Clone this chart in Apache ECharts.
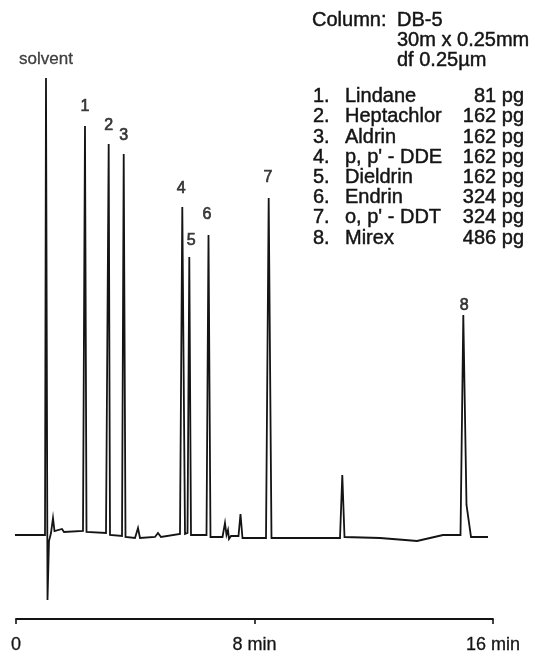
<!DOCTYPE html>
<html><head><meta charset="utf-8">
<script src="https://cdn.jsdelivr.net/npm/echarts@6/dist/echarts.min.js"></script>
<style>html,body{margin:0;padding:0;background:#fff}#c{width:534px;height:656px}</style>
</head><body><div id="c"></div>
<script>
// Chromatogram trace: retention time (min) and detector signal (arbitrary units)
const traceTime = [-0.235, 0.973, 1.006, 1.057, 1.107, 1.174, 1.241, 1.291, 1.543, 1.610,
  2.247, 2.314, 2.365, 3.019, 3.069, 3.109, 3.153, 3.556, 3.613, 3.673,
  3.992, 4.092, 4.159, 4.662, 4.763, 4.864, 5.501, 5.578, 5.669, 5.753,
  5.813, 5.870, 6.390, 6.457, 6.524, 6.927, 7.010, 7.061, 7.111, 7.145,
  7.212, 7.463, 7.530, 7.597, 8.386, 8.476, 8.570, 9.526, 10.868, 10.945,
  11.019, 12.210, 13.048, 13.451, 13.887, 14.323, 14.910, 15.004, 15.111, 15.262, 15.832];
const traceSignal = [0, 0, 457, -65, -6, 2, 17, 4, 6, 3,
  4, 409, 3, 2, 4, 391, 0, -1, 381, -2,
  -3, 7, -3, -2, 2, -2, 1, 328, 1, 2,
  278, 0, 0, 300, -2, -2, 12, 0, 5, -4,
  -1, -1, 21, -3, -3, 337, -3, -3, -3, 60,
  -2, -3, -5, -6, -3, 0, 0, 220, 30, -2, -2];

// Labelled peaks
const peakLabels = ['solvent', '1', '2', '3', '4', '5', '6', '7', '8'];
const peakTime = [1.006, 2.314, 3.109, 3.613, 5.578, 5.813, 6.457, 8.476, 15.004];
const peakSignal = [457, 409, 391, 381, 328, 278, 300, 337, 220];

// Axis ticks
const xTickValues = [0, 8, 16];
const xTickLabels = ['0', '8 min', '16 min'];

// Column info and compound list
const columnHeader = 'Column:';
const columnLines = ['DB-5', '30m x 0.25mm', 'df 0.25µm'];
const compoundNumbers = ['1.', '2.', '3.', '4.', '5.', '6.', '7.', '8.'];
const compoundNames = ['Lindane', 'Heptachlor', 'Aldrin', "p, p' - DDE", 'Dieldrin', 'Endrin', "o, p' - DDT", 'Mirex'];
const compoundAmounts = ['81 pg', '162 pg', '162 pg', '162 pg', '162 pg', '324 pg', '324 pg', '486 pg'];

// ---- styling / layout (not data) ----
const FONT = "'Liberation Sans', Arial, Helvetica, sans-serif";
const INK = '#141414';
const labelNudge = { solvent: [0, 19], '1': [0, 19], '2': [0, 18], '3': [0, 18], '4': [-1, 18],
  '5': [2, 16], '6': [-1.5, 20], '7': [-0.7, 20], '8': [1, 9] };

const trace = traceTime.map((t, i) => [t, traceSignal[i]]);
const peaks = peakTime.map((t, i) => {
  const nd = labelNudge[peakLabels[i]];
  const isSolvent = peakLabels[i] === 'solvent';
  return {
    value: [t, peakSignal[i]],
    label: { offset: [nd[0], -nd[1]], fontSize: isSolvent ? 17 : 16, textBorderWidth: isSolvent ? 0.3 : 0.7 }
  };
});

const TXT = (x, y, text, align) => ({ type: 'text', x, y, z: 10,
  style: { text, font: '20px ' + FONT, fill: INK, stroke: INK, lineWidth: 0.45, align, verticalAlign: 'middle' } });
const graphics = [];
graphics.push(TXT(312, 20, columnHeader, 'left'));
columnLines.forEach((s, i) => graphics.push(TXT(397, 20 + i * 20, s, 'left')));
compoundNames.forEach((s, i) => {
  const y = 96.7 + i * 20.2;
  graphics.push(TXT(313, y, compoundNumbers[i], 'left'));
  graphics.push(TXT(345, y, s, 'left'));
  graphics.push(TXT(524, y, compoundAmounts[i], 'right'));
});

const chart = echarts.init(document.getElementById('c'), null, { renderer: 'canvas' });
chart.setOption({
  animation: false,
  backgroundColor: '#fff',
  grid: { left: 16, right: 41, top: 70, bottom: 37, containLabel: false },
  xAxis: {
    type: 'value', min: 0, max: 16, interval: 8,
    axisLine: { show: true, onZero: false, lineStyle: { color: INK, width: 1.8 } },
    axisTick: { show: true, length: 5, lineStyle: { color: INK, width: 1.6 } },
    splitLine: { show: false },
    axisLabel: {
      margin: 17, color: INK, fontSize: 18, fontFamily: FONT,
      textBorderColor: INK, textBorderWidth: 0.3,
      showMinLabel: true, showMaxLabel: true,
      formatter: v => {
        const k = xTickValues.indexOf(v);
        return k < 0 ? '' : xTickLabels[k];
      }
    }
  },
  yAxis: { type: 'value', min: -84, max: 465, show: false, splitLine: { show: false } },
  graphic: graphics,
  series: [
    {
      type: 'line', data: trace, symbol: 'none', showSymbol: false, clip: false,
      lineStyle: { color: INK, width: 1.8, join: 'miter' }, z: 2
    },
    {
      type: 'scatter', data: peaks, symbolSize: 1, itemStyle: { color: 'rgba(0,0,0,0)' }, z: 3,
      label: {
        show: true, position: 'inside', align: 'center', verticalAlign: 'middle',
        color: INK, fontFamily: FONT, textBorderColor: INK,
        formatter: p => peakLabels[p.dataIndex]
      }
    }
  ]
});
</script></body></html>
